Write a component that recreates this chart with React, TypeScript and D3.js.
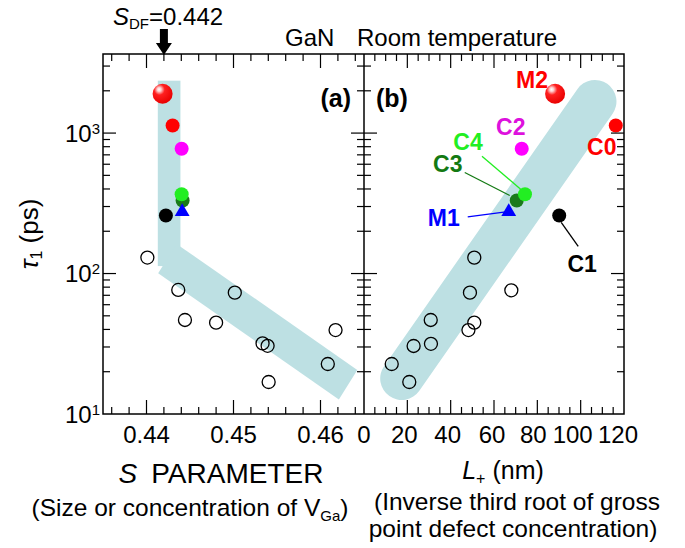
import React from 'react';
import * as d3 from 'd3';

// ---------- data ----------
const sMajorTicks = [0.44, 0.45, 0.46];
const sTickLabels = ['0.44', '0.45', '0.46'];
const lMajorTicks = [0, 20, 40, 60, 80, 100, 120];
const lTickLabels = ['0', '20', '40', '60', '80', '100', '120'];
const yDecades = [10, 100, 1000];
const yExponents = ['1', '2', '3'];

// open circles (undoped / other samples)
const openS = [0.4401, 0.44365, 0.44442, 0.448, 0.45015, 0.45334, 0.45392, 0.45404, 0.46084, 0.46173];
const openTauA = [130, 76.4, 46.7, 44.7, 73.1, 31.8, 30.6, 16.9, 22.7, 39.6];
const openL = [50.9, 48.9, 68.0, 30.8, 50.9, 48.2, 30.9, 22.9, 12.8, 20.9];
const openTauB = [129.8, 73.1, 76, 46.7, 44.7, 39.6, 31.6, 30.5, 22.7, 16.9];

// labelled samples
const sampleNames = ['M2', 'C0', 'C2', 'C3', 'C4', 'M1', 'C1'];
const sampleS = [0.44185, 0.443, 0.44404, 0.44415, 0.44404, 0.4441, 0.44223];
const sampleL = [88.2, 116.2, 72.8, 70.5, 74.3, 66.8, 90.1];
const sampleTau = [1905, 1133, 773, 331, 367, 275, 259];

// guide bands (data coordinates)
const bandAVertS = [0.4413, 0.4439];
const bandAVertTau = [113, 2361];
const bandADiagS = [0.44346, 0.46423, 0.46211, 0.44134];
const bandADiagTau = [162.6, 20.6, 12.7, 100.4];
const bandBL = [17.4, 106.6];
const bandBTau = [17.9, 1679];

// ---------- styling ----------
const sampleColor: Record<string, string> = {
  M2: '#ff0000', C0: '#ff0000', C2: '#ff00ff', C3: '#1a7a1a', C4: '#22ee22', M1: '#0000ff', C1: '#000000',
};
const labelColor: Record<string, string> = {
  M2: '#ff0000', C0: '#ff0000', C2: '#dd11dd', C3: '#137a13', C4: '#22ee22', M1: '#0000ff', C1: '#000000',
};
const labelOffset: Record<string, [number, number]> = {
  M2: [-23, -6], C0: [-14, 30], C2: [-11, -14], C4: [-57, -44], C3: [-69, -29], M1: [-65, 14], C1: [23, 57],
};
const leaderOffset: Record<string, [number, number, number, number]> = {
  C4: [-43, -38, -2, -3],
  C3: [-52, -28, -7, -5],
  M1: [-41, 5, -3, 0],
  C1: [2, 7, 19, 31],
};
const lLabelDx = [0, -3, -3, -2, -4, -8, -6];

const FONT = "'Liberation Sans', Arial, Helvetica, sans-serif";
const BAND = '#bde0e3';

const W = 685, H = 548;
const TOP = 54, BOTTOM = 414;
const xA = d3.scaleLinear().domain([0.435, 0.465]).range([103, 364]);
const xB = d3.scaleLinear().domain([0, 120]).range([364, 624]);
const y = d3.scaleLog().domain([10, 3656]).range([BOTTOM, TOP]);

const sTicks = d3.range(218, 233).map((i) => +(i * 0.002).toFixed(4));
const lTicks = d3.range(5, 120, 5);
const yMinor: number[] = [];
yDecades.forEach((d) => {
  for (let k = 2; k <= 9; k++) if (k * d <= 3656) yMinor.push(k * d);
});

function isMajorS(v: number) {
  return sMajorTicks.some((m) => Math.abs(m - v) < 1e-6);
}

export default function App() {
  const line = d3.line<[number, number]>();
  const diagPts: [number, number][] = bandADiagS.map((s, i) => [xA(s), y(bandADiagTau[i])]);
  const MAJ = 14, MIN = 7;

  const tickLines: JSX.Element[] = [];
  sTicks.forEach((v, i) => {
    const len = isMajorS(v) ? MAJ : MIN;
    const x = xA(v);
    tickLines.push(<line key={'sa' + i} x1={x} x2={x} y1={BOTTOM} y2={BOTTOM - len} />);
    tickLines.push(<line key={'sat' + i} x1={x} x2={x} y1={TOP} y2={TOP + len} />);
  });
  lTicks.forEach((v, i) => {
    const len = v % 20 === 0 ? MAJ : MIN;
    const x = xB(v);
    tickLines.push(<line key={'lb' + i} x1={x} x2={x} y1={BOTTOM} y2={BOTTOM - len} />);
    tickLines.push(<line key={'lbt' + i} x1={x} x2={x} y1={TOP} y2={TOP + len} />);
  });
  const yAll = [...yDecades.slice(1).map((v) => [v, MAJ - 1]), ...yMinor.map((v) => [v, MIN])];
  yAll.forEach(([v, len], i) => {
    const yy = y(v);
    tickLines.push(<line key={'yl' + i} x1={103} x2={103 + len} y1={yy} y2={yy} />);
    tickLines.push(<line key={'ym' + i} x1={364 - len} x2={364 + len} y1={yy} y2={yy} />);
    tickLines.push(<line key={'yr' + i} x1={624 - len} x2={624} y1={yy} y2={yy} />);
  });

  const renderSample = (name: string, cx: number, cy: number, key: string) => {
    if (name === 'M1') {
      const tri = d3.symbol().type(d3.symbolTriangle).size(95)();
      return <path key={key} d={tri as string} transform={`translate(${cx},${cy})`} fill={sampleColor[name]} />;
    }
    if (name === 'M2') {
      return <circle key={key} cx={cx} cy={cy} r={10} fill="url(#sphere)" />;
    }
    return <circle key={key} cx={cx} cy={cy} r={7} fill={sampleColor[name]} />;
  };

  return (
    <svg width={W} height={H} style={{ position: 'absolute', left: 0, top: 0, background: '#fff' }} fontFamily={FONT}>
      <defs>
        <radialGradient id="sphere" cx="0.38" cy="0.32" r="0.7" fx="0.32" fy="0.28">
          <stop offset="0%" stopColor="#ffffff" />
          <stop offset="14%" stopColor="#ffd0d0" />
          <stop offset="38%" stopColor="#ff2020" />
          <stop offset="100%" stopColor="#e80000" />
        </radialGradient>
      </defs>

      {/* guide bands */}
      <rect x={xA(bandAVertS[0])} width={xA(bandAVertS[1]) - xA(bandAVertS[0])}
        y={y(bandAVertTau[1])} height={y(bandAVertTau[0]) - y(bandAVertTau[1])} fill={BAND} />
      <path d={(line(diagPts) as string) + 'Z'} fill={BAND} />
      <path d={line([[xB(bandBL[0]), y(bandBTau[0])], [xB(bandBL[1]), y(bandBTau[1])]]) as string}
        stroke={BAND} strokeWidth={43} strokeLinecap="round" fill="none" />

      {/* open circles */}
      {openS.map((s, i) => (
        <circle key={'oa' + i} cx={xA(s)} cy={y(openTauA[i])} r={6.5} fill="none" stroke="#000" strokeWidth={1.3} />
      ))}
      {openL.map((l, i) => (
        <circle key={'ob' + i} cx={xB(l)} cy={y(openTauB[i])} r={6.5} fill="none" stroke="#000" strokeWidth={1.3} />
      ))}

      {/* leader lines */}
      {sampleNames.filter((n) => leaderOffset[n]).map((n) => {
        const i = sampleNames.indexOf(n);
        const cx = xB(sampleL[i]), cy = y(sampleTau[i]);
        const o = leaderOffset[n];
        return <line key={'ld' + n} x1={cx + o[0]} y1={cy + o[1]} x2={cx + o[2]} y2={cy + o[3]}
          stroke={labelColor[n]} strokeWidth={1.3} />;
      })}

      {/* samples */}
      {sampleNames.map((n, i) => renderSample(n, xA(sampleS[i]), y(sampleTau[i]), 'sa' + n))}
      {sampleNames.map((n, i) => renderSample(n, xB(sampleL[i]), y(sampleTau[i]), 'sb' + n))}

      {/* sample labels */}
      {sampleNames.map((n, i) => (
        <text key={'lab' + n} x={xB(sampleL[i]) + labelOffset[n][0]} y={y(sampleTau[i]) + labelOffset[n][1]}
          textAnchor="middle" fontSize={23} fontWeight="bold" fill={labelColor[n]}>{n}</text>
      ))}

      {/* frame */}
      <g stroke="#000" strokeWidth={1.5} fill="none">
        <rect x={103} y={TOP} width={624 - 103} height={BOTTOM - TOP} />
        <line x1={364} x2={364} y1={TOP} y2={BOTTOM} />
      </g>
      <g stroke="#000" strokeWidth={1.2}>{tickLines}</g>

      {/* tick labels */}
      {sMajorTicks.map((v, i) => (
        <text key={'stl' + i} x={xA(v)} y={443} textAnchor="middle" fontSize={24}>{sTickLabels[i]}</text>
      ))}
      {lMajorTicks.map((v, i) => (
        <text key={'ltl' + i} x={xB(v) + lLabelDx[i]} y={443} textAnchor="middle" fontSize={24}>{lTickLabels[i]}</text>
      ))}
      {yDecades.map((v, i) => (
        <text key={'ytl' + i} x={100} y={y(v) + 8.5} textAnchor="end" fontSize={24}>
          10<tspan fontSize={15} dy={-8}>{yExponents[i]}</tspan>
        </text>
      ))}

      {/* panel tags */}
      <text x={351} y={107} textAnchor="end" fontSize={25} fontWeight="bold">(a)</text>
      <text x={376} y={107} fontSize={25} fontWeight="bold">(b)</text>

      {/* top annotation */}
      <text x={113} y={25} fontSize={24}>
        <tspan fontStyle="italic">S</tspan>
        <tspan fontSize={15} dy={4}>DF</tspan>
        <tspan dy={-4}>=0.442</tspan>
      </text>
      <path d={`M${xA(0.442) - 4},29 h8 v14 h4 l-8,12 l-8,-12 h4 Z`} fill="#000" />
      <text x={285} y={46} fontSize={24}>GaN</text>
      <text x={357} y={46} fontSize={24}>Room temperature</text>

      {/* y title */}
      <text transform="translate(38,234) rotate(-90)" textAnchor="middle" fontSize={26}>
        <tspan fontStyle="italic">τ</tspan>
        <tspan fontSize={16} dy={4}>1</tspan>
        <tspan dy={-4}> (ps)</tspan>
      </text>

      {/* x titles */}
      <text x={221} y={483} textAnchor="middle" fontSize={28}>
        <tspan fontStyle="italic">S</tspan>
        <tspan dx={14}>PARAMETER</tspan>
      </text>
      <text x={190} y={516} textAnchor="middle" fontSize={24.5}>
        (Size or concentration of V<tspan fontSize={15} dy={5}>Ga</tspan><tspan dy={-5}>)</tspan>
      </text>
      <text x={503} y={479} textAnchor="middle" fontSize={25}>
        <tspan fontStyle="italic">L</tspan>
        <tspan fontSize={16} dy={5}>+</tspan>
        <tspan dy={-5}> (nm)</tspan>
      </text>
      <text x={517} y={510} textAnchor="middle" fontSize={24.5}>(Inverse third root of gross</text>
      <text x={513} y={537} textAnchor="middle" fontSize={24.5}>point defect concentration)</text>
    </svg>
  );
}
